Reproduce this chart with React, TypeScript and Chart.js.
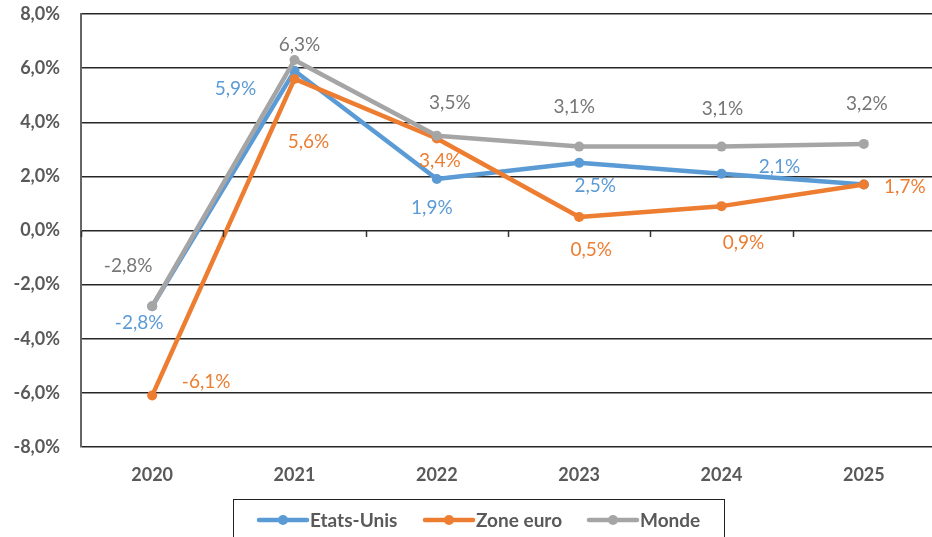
import React, { useEffect, useRef } from "react";
import { Chart, registerables } from "chart.js";

Chart.register(...registerables);

const years = ["2020", "2021", "2022", "2023", "2024", "2025"];
const etatsUnis = [-2.8, 5.9, 1.9, 2.5, 2.1, 1.7];
const zoneEuro = [-6.1, 5.6, 3.4, 0.5, 0.9, 1.7];
const monde = [-2.8, 6.3, 3.5, 3.1, 3.1, 3.2];
const seriesNames = ["Etats-Unis", "Zone euro", "Monde"];

const BLUE = "#5B9BD5";
const ORANGE = "#ED7D31";
const GRAY = "#A5A5A5";
const TEXT = "#595959";
const FONT = "Lato, 'Open Sans', sans-serif";

// label offsets (px) relative to each point; null = no label
const labelOffsets: Record<string, ([number, number] | null)[]> = {
  "Etats-Unis": [[-13, 17], [-59, 18], [-5, 29], [16, 23], [58, -7], null],
  "Zone euro": [[54, -14], [14, 63], [3, 22], [12, 33], [22, 37], [41, 2]],
  Monde: [[-24, -40], [5, -15], [13, -33], [-5, -40], [1, -38], [3, -40]],
};
const labelColors: Record<string, string> = {
  "Etats-Unis": BLUE,
  "Zone euro": ORANGE,
  Monde: "#767676",
};

const fmt = (v: number) => v.toFixed(1).replace(".", ",") + "%";

const dataLabelPlugin = {
  id: "dataLabels",
  afterDatasetsDraw(chart: any) {
    const ctx = chart.ctx;
    ctx.save();
    ctx.font = `19px ${FONT}`;
    ctx.textAlign = "center";
    ctx.textBaseline = "middle";
    chart.data.datasets.forEach((ds: any, di: number) => {
      const meta = chart.getDatasetMeta(di);
      const offs = labelOffsets[ds.label];
      meta.data.forEach((pt: any, i: number) => {
        const o = offs[i];
        if (!o) return;
        ctx.fillStyle = labelColors[ds.label];
        ctx.fillText(fmt(ds.data[i]), pt.x + o[0], pt.y + o[1]);
      });
    });
    ctx.restore();
  },
};

const zeroTicksPlugin = {
  id: "zeroTicks",
  afterDraw(chart: any) {
    const { ctx, chartArea, scales } = chart;
    const y0 = Math.round(scales.y.getPixelForValue(0));
    const n = chart.data.labels.length;
    const w = (chartArea.right - chartArea.left) / n;
    ctx.save();
    ctx.strokeStyle = "#333";
    ctx.lineWidth = 1.5;
    for (let i = 0; i <= n; i++) {
      const x = Math.round(chartArea.left + i * w) + 0.5;
      ctx.beginPath();
      ctx.moveTo(x, y0);
      ctx.lineTo(x, y0 + 6);
      ctx.stroke();
    }
    ctx.restore();
  },
};

const legendPlugin = {
  id: "boxLegend",
  afterDraw(chart: any) {
    const ctx = chart.ctx;
    ctx.save();
    ctx.strokeStyle = "#222";
    ctx.lineWidth = 1;
    ctx.strokeRect(233.5, 499.5, 491, 60);
    const starts = [259, 425, 589];
    const colors = [BLUE, ORANGE, GRAY];
    const yc = 520;
    ctx.font = `bold 19px ${FONT}`;
    ctx.textBaseline = "middle";
    ctx.textAlign = "left";
    seriesNames.forEach((name, i) => {
      const x0 = starts[i];
      ctx.strokeStyle = colors[i];
      ctx.lineWidth = 4.5;
      ctx.lineCap = "round";
      ctx.beginPath();
      ctx.moveTo(x0, yc);
      ctx.lineTo(x0 + 48, yc);
      ctx.stroke();
      ctx.fillStyle = colors[i];
      ctx.beginPath();
      ctx.arc(x0 + 24, yc, 5, 0, Math.PI * 2);
      ctx.fill();
      ctx.fillStyle = TEXT;
      ctx.fillText(name, x0 + 51, yc + 1);
    });
    ctx.restore();
  },
};

export default function App() {
  const ref = useRef<HTMLCanvasElement>(null);

  useEffect(() => {
    if (!ref.current) return;
    const mk = (label: string, data: number[], color: string, order: number) => ({
      label,
      data,
      borderColor: color,
      backgroundColor: color,
      borderWidth: 4.5,
      borderJoinStyle: "round",
      pointRadius: 5,
      pointBorderWidth: 0,
      pointBackgroundColor: color,
      tension: 0,
      order,
    });
    const chart = new Chart(ref.current, {
      type: "line",
      data: {
        labels: years,
        datasets: [
          mk(seriesNames[0], etatsUnis, BLUE, 2),
          mk(seriesNames[1], zoneEuro, ORANGE, 1),
          mk(seriesNames[2], monde, GRAY, 0),
        ],
      },
      options: {
        responsive: false,
        animation: false,
        devicePixelRatio: 1,
        layout: { padding: { top: 14, right: 2, left: 0, bottom: 0 } },
        plugins: {
          legend: { display: false },
          tooltip: { enabled: false },
        },
        scales: {
          x: {
            offset: true,
            grid: { display: false, drawTicks: true, tickLength: 17, offset: true },
            border: { display: false },
            ticks: {
              padding: 0,
              color: TEXT,
              font: { family: FONT, size: 18, weight: "bold" },
            },
            afterFit(scale: any) {
              scale.height = 90;
            },
          },
          y: {
            min: -8,
            max: 8,
            grid: {
              color: "#262626",
              lineWidth: 1.4,
              drawTicks: true,
              tickLength: 21,
              tickColor: "rgba(0,0,0,0)",
            },
            border: { display: true, color: "#666", width: 2 },
            ticks: {
              stepSize: 2,
              padding: 0,
              color: TEXT,
              font: { family: FONT, size: 18, weight: "bold" },
              callback: (v: any) => fmt(Number(v)),
            },
            afterFit(scale: any) {
              scale.width = 81;
            },
          },
        },
      } as any,
      plugins: [dataLabelPlugin, zeroTicksPlugin, legendPlugin],
    });
    return () => chart.destroy();
  }, []);

  return (
    <div
      style={{
        position: "fixed",
        left: 0,
        top: 0,
        width: 932,
        height: 537,
        overflow: "hidden",
        background: "#fff",
      }}
    >
      <canvas ref={ref} width={940} height={537} style={{ width: 940, height: 537, display: "block" }} />
    </div>
  );
}
